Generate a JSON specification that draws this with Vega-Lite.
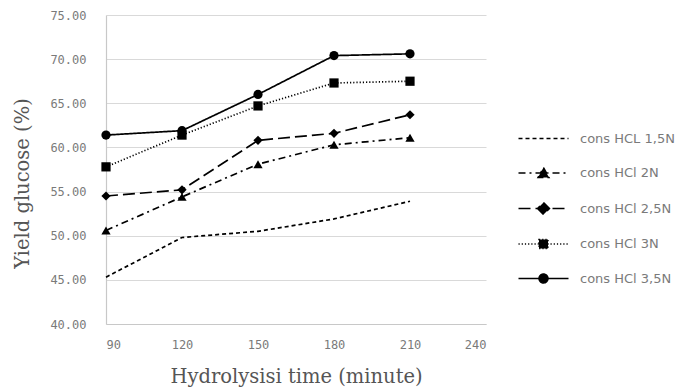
{
  "$schema": "https://vega.github.io/schema/vega-lite/v6.json",
  "width": 380,
  "height": 309,
  "autosize": {"type": "none"},
  "padding": {"left": 106, "top": 15, "right": 200, "bottom": 68},
  "background": "white",
  "data": {
    "values": [
      {"series": "cons HCL 1,5N", "time": 90, "yield": 45.3},
      {"series": "cons HCL 1,5N", "time": 120, "yield": 49.8},
      {"series": "cons HCL 1,5N", "time": 150, "yield": 50.5},
      {"series": "cons HCL 1,5N", "time": 180, "yield": 51.9},
      {"series": "cons HCL 1,5N", "time": 210, "yield": 53.9},
      {"series": "cons HCl 2N", "time": 90, "yield": 50.6},
      {"series": "cons HCl 2N", "time": 120, "yield": 54.4},
      {"series": "cons HCl 2N", "time": 150, "yield": 58.1},
      {"series": "cons HCl 2N", "time": 180, "yield": 60.3},
      {"series": "cons HCl 2N", "time": 210, "yield": 61.1},
      {"series": "cons HCl 2,5N", "time": 90, "yield": 54.5},
      {"series": "cons HCl 2,5N", "time": 120, "yield": 55.2},
      {"series": "cons HCl 2,5N", "time": 150, "yield": 60.8},
      {"series": "cons HCl 2,5N", "time": 180, "yield": 61.6},
      {"series": "cons HCl 2,5N", "time": 210, "yield": 63.7},
      {"series": "cons HCl 3N", "time": 90, "yield": 57.8},
      {"series": "cons HCl 3N", "time": 120, "yield": 61.4},
      {"series": "cons HCl 3N", "time": 150, "yield": 64.7},
      {"series": "cons HCl 3N", "time": 180, "yield": 67.3},
      {"series": "cons HCl 3N", "time": 210, "yield": 67.5},
      {"series": "cons HCl 3,5N", "time": 90, "yield": 61.4},
      {"series": "cons HCl 3,5N", "time": 120, "yield": 61.9},
      {"series": "cons HCl 3,5N", "time": 150, "yield": 66.0},
      {"series": "cons HCl 3,5N", "time": 180, "yield": 70.4},
      {"series": "cons HCl 3,5N", "time": 210, "yield": 70.6}
    ]
  },
  "encoding": {
    "x": {
      "field": "time",
      "type": "quantitative",
      "scale": {"domain": [90, 240], "nice": false, "zero": false},
      "axis": {
        "title": "Hydrolysisi time (minute)",
        "values": [90, 120, 150, 180, 210, 240],
        "grid": false,
        "ticks": false,
        "domainColor": "#c8c8c8",
        "domainWidth": 1.2,
        "labelPadding": 15,
        "labelFont": "DejaVu Sans Mono",
        "labelFontSize": 12,
        "labelColor": "#7a7a7a",
        "titleFont": "DejaVu Serif",
        "titleFontSize": 19.5,
        "titleFontWeight": "normal",
        "titleColor": "#555555",
        "titlePadding": 17
      }
    },
    "y": {
      "field": "yield",
      "type": "quantitative",
      "scale": {"domain": [40, 75], "nice": false, "zero": false},
      "axis": {
        "title": "Yield glucose  (%)",
        "values": [40, 45, 50, 55, 60, 65, 70, 75],
        "format": ".2f",
        "grid": true,
        "gridColor": "#d9d9d9",
        "gridWidth": 1.2,
        "ticks": false,
        "domainColor": "#c8c8c8",
        "domainWidth": 1.2,
        "labelPadding": 20,
        "labelFont": "DejaVu Sans Mono",
        "labelFontSize": 12,
        "labelColor": "#7a7a7a",
        "titleFont": "DejaVu Serif",
        "titleFontSize": 19.5,
        "titleFontWeight": "normal",
        "titleColor": "#555555",
        "titlePadding": 17,
        "titleY": 168
      }
    }
  },
  "layer": [
    {
      "mark": {"type": "line", "color": "black", "strokeWidth": 1.7},
      "encoding": {
        "detail": {"field": "series"},
        "strokeDash": {
          "field": "series",
          "type": "nominal",
          "scale": {
            "domain": ["cons HCL 1,5N", "cons HCl 2N", "cons HCl 2,5N", "cons HCl 3N", "cons HCl 3,5N"],
            "range": [[4, 3], [7, 4, 2, 4], [12, 5], [1.2, 2], [1, 0]]
          },
          "legend": {
            "title": null,
            "orient": "none",
            "legendX": 411,
            "legendY": 117,
            "padding": 0,
            "symbolSize": 100,
            "symbolStrokeWidth": 1.5,
            "symbolStrokeColor": "black",
            "labelOffset": 50,
            "rowPadding": 18.5,
            "labelFont": "DejaVu Sans",
            "labelFontSize": 13,
            "labelColor": "#7a7a7a",
            "encode": {
              "symbols": {
                "update": {
                  "shape": {"signal": "datum.value === 'cons HCl 2N' ? 'M-1,0H9M4,-1.1L5.1,0.9H2.9Z' : datum.value === 'cons HCl 2,5N' ? 'M-1,0H9M4,-1.2L5.2,0L4,1.2L2.8,0Z' : datum.value === 'cons HCl 3N' ? 'M-1,0H9M3.1,-0.9H4.9V0.9H3.1Z' : datum.value === 'cons HCl 3,5N' ? 'M-1,0H9M3.1,0A0.9,0.9 0 1,0 4.9,0A0.9,0.9 0 1,0 3.1,0Z' : 'M-1,0H9'"},
                  "fill": {"value": "black"},
                  "stroke": {"value": "black"},
                  "strokeWidth": {"value": 1.5}
                }
              }
            }
          }
        }
      }
    },
    {
      "transform": [{"filter": "datum.series !== 'cons HCL 1,5N'"}],
      "mark": {"type": "point", "filled": true, "color": "black", "opacity": 1, "size": 85},
      "encoding": {
        "shape": {
          "field": "series",
          "type": "nominal",
          "scale": {
            "domain": ["cons HCl 2N", "cons HCl 2,5N", "cons HCl 3N", "cons HCl 3,5N"],
            "range": ["triangle-up", "diamond", "square", "circle"]
          },
          "legend": null
        }
      }
    }
  ],
  "config": {"view": {"stroke": null}}
}
